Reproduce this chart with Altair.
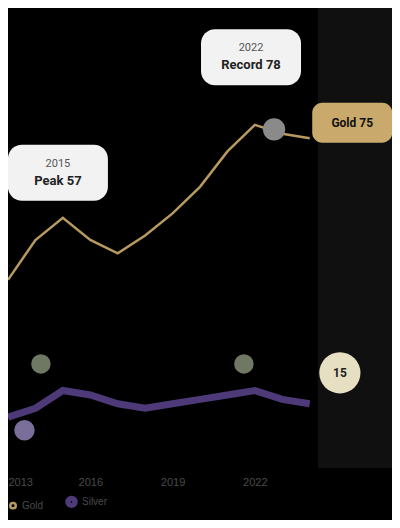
import altair as alt
import pandas as pd

years = list(range(2013, 2025))
gold = [43, 52, 57, 52, 49, 53, 58, 64, 72, 78, 76, 75]
silver = [12, 14, 18, 17, 15, 14, 15, 16, 17, 18, 16, 15]

note_years = [2014.82, 2021.86]
note_vals = [67.2, 93.3]
note_head = ["2015", "2022"]
note_text = ["Peak 57", "Record 78"]

end_year = [2025.55]
end_vals = [78.5]
end_text = ["Gold 75"]

circ_year = [2025.1]
circ_val = [22]
circ_text = ["15"]

dots_year = [2014.2, 2021.6]
dots_val = [24, 24]

start_year = [2013.6]
start_val = [9]

last_year = [2022.7]
last_val = [77]

df = pd.DataFrame({"year": years, "Gold": gold, "Silver": silver})
long = df.melt("year", var_name="series", value_name="value")
notes = pd.DataFrame({"year": note_years, "value": note_vals, "head": note_head, "text": note_text})
ends = pd.DataFrame({"year": end_year, "value": end_vals, "text": end_text})
circ = pd.DataFrame({"year": circ_year, "value": circ_val, "text": circ_text})
dots = pd.DataFrame({"year": dots_year, "value": dots_val})
startp = pd.DataFrame({"year": start_year, "value": start_val})
lastp = pd.DataFrame({"year": last_year, "value": last_val})
shade = pd.DataFrame({"x": [2024.3], "x2": [2027]})

xs = alt.Scale(domain=[2013, 2027], nice=False, zero=False)
ys = alt.Scale(domain=[0.5, 104.4], nice=False, zero=False)
X = lambda: alt.X("year:Q", scale=xs)
Y = lambda: alt.Y("value:Q", scale=ys)

base_x = alt.X("year:Q", scale=xs, axis=alt.Axis(format="d", values=years[::3], title=None,
               labelColor="#4a4a4a", domain=False, ticks=False, grid=False, labelFontSize=11,
               labelFlush=True, labelPadding=8))

band = alt.Chart(shade).mark_rect(color="#101010").encode(
    x=alt.X("x:Q", scale=xs), x2="x2:Q")

lines = alt.Chart(long).mark_line().encode(
    x=base_x,
    y=alt.Y("value:Q", scale=ys, axis=None),
    strokeWidth=alt.StrokeWidth("series:N", scale=alt.Scale(domain=["Gold", "Silver"], range=[2.5, 7]), legend=None),
    color=alt.Color("series:N", scale=alt.Scale(domain=["Gold", "Silver"], range=["#b89a60", "#4e3a78"]),
                    legend=alt.Legend(orient="bottom", title=None, labelColor="#4a4a4a", symbolType="circle",
                                      symbolStrokeWidth=6, symbolSize=30,
                                      direction="horizontal", offset=8, padding=0)))

pts = alt.Chart(dots).mark_circle(size=380, color="#6e7862", opacity=1).encode(x=X(), y=Y())
sp = alt.Chart(startp).mark_circle(size=420, color="#7a6e9a", opacity=1).encode(x=X(), y=Y())
lp = alt.Chart(lastp).mark_circle(size=500, color="#8a8a8a", opacity=1).encode(x=X(), y=Y())

boxes = alt.Chart(notes).mark_rect(width=100, height=56, cornerRadius=14, color="#f2f2f2").encode(x=X(), y=Y())
bhead = alt.Chart(notes).mark_text(fontSize=11, color="#555", font="Roboto", dy=-9).encode(
    x=X(), y=Y(), text="head:N")
btxt = alt.Chart(notes).mark_text(fontSize=13, fontWeight="bold", color="#222", font="Roboto", dy=8).encode(
    x=X(), y=Y(), text="text:N")

eboxes = alt.Chart(ends).mark_rect(width=80, height=40, cornerRadius=10, color="#c9aa6c").encode(x=X(), y=Y())
etxt = alt.Chart(ends).mark_text(fontSize=12, fontWeight="bold", color="#111", font="Roboto").encode(
    x=X(), y=Y(), text="text:N")

cc = alt.Chart(circ).mark_circle(size=1700, color="#e6dfc2", opacity=1).encode(x=X(), y=Y())
ctxt = alt.Chart(circ).mark_text(fontSize=12, fontWeight="bold", color="#222", font="Roboto").encode(
    x=X(), y=Y(), text="text:N")

chart = alt.layer(band, lines, pts, sp, lp, boxes, bhead, btxt, eboxes, etxt, cc, ctxt).properties(
    width=384, height=460, background="#000000",
    autosize=alt.AutoSizeParams(type="none"),
    padding={"left": 0, "top": 0, "right": 0, "bottom": 52}
).configure_view(stroke=None)

chart.save("out.html", embed_options={"renderer": "svg", "actions": False})
